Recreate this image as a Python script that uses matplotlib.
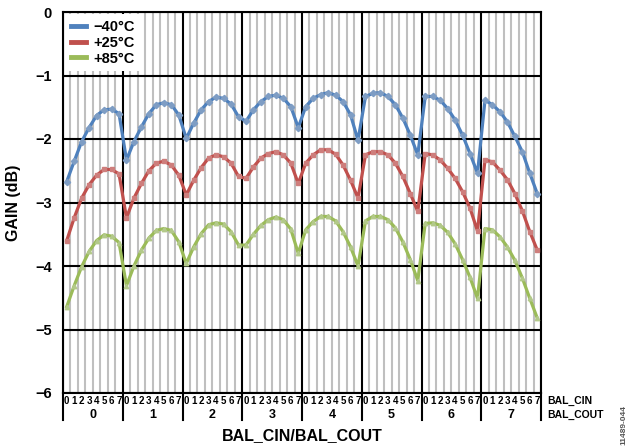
import numpy as np
import matplotlib
matplotlib.use('Agg')
import matplotlib.pyplot as plt
from matplotlib.lines import Line2D

plt.rcParams['font.family'] = ['Liberation Sans', 'DejaVu Sans']
plt.rcParams['font.weight'] = 'bold'

# BAL_COUT 0..7, each with BAL_CIN 0..7
cin_labels = [str(i) for i in range(8)]
cout_labels = [str(i) for i in range(8)]
series_names = ['\u221240°C', '+25°C', '+85°C']

gain_m40 = [
    -2.67, -2.35, -2.04, -1.82, -1.63, -1.54, -1.53, -1.60,
    -2.33, -2.04, -1.81, -1.60, -1.46, -1.43, -1.46, -1.62,
    -1.99, -1.75, -1.54, -1.41, -1.34, -1.36, -1.45, -1.65,
    -1.72, -1.54, -1.41, -1.33, -1.31, -1.36, -1.49, -1.82,
    -1.49, -1.36, -1.30, -1.27, -1.31, -1.41, -1.62, -2.02,
    -1.33, -1.28, -1.27, -1.33, -1.46, -1.67, -1.94, -2.25,
    -1.33, -1.33, -1.39, -1.52, -1.70, -1.94, -2.23, -2.54,
    -1.39, -1.46, -1.57, -1.73, -1.96, -2.20, -2.54, -2.86]

gain_p25 = [
    -3.60, -3.24, -2.93, -2.72, -2.57, -2.48, -2.48, -2.55,
    -3.24, -2.93, -2.70, -2.50, -2.38, -2.35, -2.41, -2.57,
    -2.88, -2.65, -2.45, -2.30, -2.25, -2.28, -2.38, -2.59,
    -2.62, -2.44, -2.30, -2.23, -2.20, -2.25, -2.38, -2.70,
    -2.38, -2.25, -2.17, -2.17, -2.24, -2.41, -2.65, -2.93,
    -2.25, -2.20, -2.20, -2.25, -2.38, -2.59, -2.86, -3.14,
    -2.23, -2.25, -2.33, -2.46, -2.62, -2.83, -3.09, -3.45,
    -2.33, -2.36, -2.49, -2.64, -2.86, -3.13, -3.46, -3.75]

gain_p85 = [
    -4.64, -4.31, -4.01, -3.77, -3.60, -3.51, -3.53, -3.63,
    -4.31, -4.00, -3.75, -3.56, -3.44, -3.41, -3.44, -3.62,
    -3.96, -3.70, -3.49, -3.35, -3.32, -3.34, -3.46, -3.67,
    -3.67, -3.50, -3.36, -3.27, -3.23, -3.27, -3.42, -3.80,
    -3.43, -3.30, -3.22, -3.22, -3.29, -3.46, -3.70, -4.00,
    -3.29, -3.22, -3.22, -3.27, -3.40, -3.62, -3.90, -4.23,
    -3.33, -3.32, -3.36, -3.47, -3.65, -3.90, -4.18, -4.51,
    -3.41, -3.43, -3.54, -3.70, -3.91, -4.19, -4.51, -4.82]

colors = ['#4F81BD', '#C0504D', '#9BBB59']
marker_colors = ['#7E9DC4', '#CE7E7C', '#B3C98A']
markers = ['D', 's', '^']

fig = plt.figure(figsize=(6.29, 4.46), dpi=100)
ax = fig.add_axes([63/629, 1 - 393/446, (541 - 63)/629, (393 - 12)/446])

n = len(gain_m40)
x = np.arange(n)

# gridlines
for k in range(n + 1):
    if k % 8 == 0:
        continue
    ax.axvline(k - 0.5, color='#BFBFBF', lw=1.5, zorder=1)
for k in range(0, n + 1, 8):
    ax.axvline(k - 0.5, color='black', lw=1.5, zorder=2)
for v in range(-6, 1):
    ax.axhline(v, color='black', lw=1.5, zorder=2)

for data, c, mc, m in zip([gain_m40, gain_p25, gain_p85], colors,
                          marker_colors, markers):
    ax.plot(x, data, color=c, lw=2.3, zorder=4)
    ax.plot(x, data, ls='none', marker=m, ms=3.2, mfc=mc, mec=mc, zorder=4.5)

ax.set_xlim(-0.5, n - 0.5)
ax.set_ylim(-6, 0)
ax.set_yticks(range(-6, 1))
ax.set_yticklabels([('\u2212%d' % -v) if v < 0 else '0' for v in range(-6, 1)],
                   fontsize=10.5, fontweight='bold')
ax.tick_params(axis='y', length=0, pad=8)
ax.set_xticks([])
for s in ax.spines.values():
    s.set_linewidth(1.5)
    s.set_zorder(3)

trans = ax.get_xaxis_transform()
h = 381.0
for g in range(8):
    for i, lab in enumerate(cin_labels):
        ax.text(g * 8 + i, -7.5/h, lab, transform=trans, ha='center', va='center',
                fontsize=7, fontweight='bold')
    ax.text(g * 8 + 3.5, -22/h, cout_labels[g], transform=trans, ha='center',
            va='center', fontsize=9, fontweight='bold')
for k in range(0, n + 1, 8):
    ax.plot([k - 0.5, k - 0.5], [0, -27/h], transform=trans, color='black',
            lw=1.5, clip_on=False)

fig.text(547/629, 1 - 401/446, 'BAL_CIN', fontsize=7.5, fontweight='bold',
         ha='left', va='center')
fig.text(547/629, 1 - 415/446, 'BAL_COUT', fontsize=7.5, fontweight='bold',
         ha='left', va='center')
fig.text(302/629, 1 - 436/446, 'BAL_CIN/BAL_COUT', fontsize=11.5,
         fontweight='bold', ha='center', va='center')
fig.text(14/629, 1 - 203/446, 'GAIN (dB)', fontsize=11.5, fontweight='bold',
         rotation=90, ha='center', va='center')
fig.text(624/629, 1 - 425/446, '11489-044', fontsize=6, color='#555555',
         rotation=90, ha='center', va='center')

handles = [Line2D([], [], color=c, lw=3.5) for c in colors]
leg = ax.legend(handles, series_names, loc='upper left', fontsize=10.5,
                handlelength=1.05, handletextpad=0.45, labelspacing=0.12,
                borderpad=0.4, borderaxespad=0.15, fancybox=False,
                framealpha=1, edgecolor='none', facecolor='white')
leg.set_zorder(5)
for t in leg.get_texts():
    t.set_fontweight('bold')

plt.savefig('out.png', dpi=100)
